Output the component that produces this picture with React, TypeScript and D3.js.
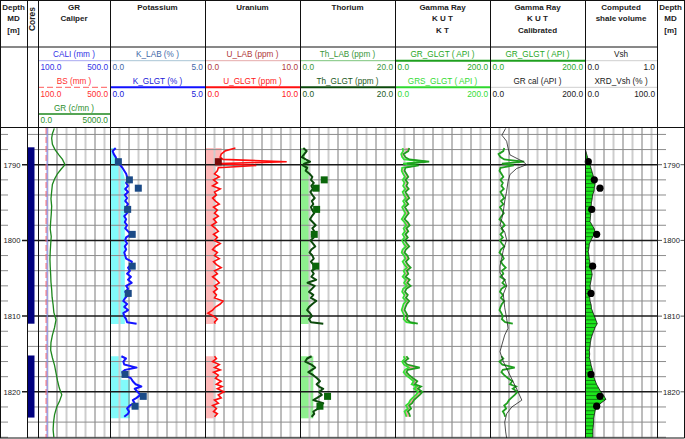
import React from 'react';
import * as d3 from 'd3';

// ---------- data (depths in m MD) ----------
const CORES = [[1787.7, 1811.0], [1815.2, 1823.4]];
const MAJOR_DEPTHS = [1790, 1800, 1810, 1820];

// core interval A / B sampling depths
const DEPTH_A = [
  1787.8, 1788.2, 1788.6, 1789.0, 1789.3, 1789.6, 1789.85, 1790.1, 1790.4, 1790.8,
  1791.2, 1791.6, 1792.0, 1792.4, 1792.8, 1793.2, 1793.6, 1794.0, 1794.4, 1794.8,
  1795.2, 1795.6, 1796.0, 1796.4, 1796.8, 1797.2, 1797.6, 1798.0, 1798.4, 1798.8,
  1799.2, 1799.6, 1800.0, 1800.4, 1800.8, 1801.2, 1801.6, 1802.0, 1802.4, 1802.8,
  1803.2, 1803.6, 1804.0, 1804.4, 1804.8, 1805.2, 1805.6, 1806.0, 1806.4, 1806.8,
  1807.2, 1807.6, 1808.0, 1808.4, 1808.8, 1809.2, 1809.6, 1810.0, 1810.4, 1810.8,
  1811.0,
];
const DEPTH_B = [
  1815.3, 1815.6, 1816.0, 1816.4, 1816.8, 1817.1, 1817.4, 1817.8, 1818.2, 1818.6,
  1819.0, 1819.3, 1819.6, 1820.0, 1820.4, 1820.8, 1821.1, 1821.5, 1821.8, 1822.2,
  1822.6, 1822.9, 1823.3,
];

// K_GLGT (%)
const K_A = [
  0.30, 0.14, 0.20, 0.30, 0.35, 0.45, 0.50, 0.55, 0.65, 0.75,
  0.85, 0.90, 0.95, 0.85, 0.95, 0.80, 0.95, 0.78, 0.90, 0.80,
  0.95, 0.85, 0.78, 0.90, 0.75, 0.85, 0.78, 0.90, 0.80, 0.95,
  1.10, 0.85, 0.80, 0.90, 0.78, 0.85, 0.75, 0.80, 0.85, 1.15,
  1.10, 0.95, 1.05, 0.90, 1.10, 0.95, 1.14, 0.85, 0.95, 0.80,
  0.95, 0.80, 0.70, 0.90, 0.75, 0.95, 0.70, 0.75, 0.85, 0.90,
  1.40,
];
const K_B = [0.60, 0.84, 0.70, 0.75, 1.40, 0.80, 0.65, 0.70, 1.10, 1.20, 1.35, 1.65, 1.30, 1.45, 1.60, 1.40, 1.20, 1.30, 1.05, 0.90, 1.00, 0.95, 0.75];

// U_GLGT (ppm)
const U_A = [
  3.2, 2.1, 1.7, 1.6, 1.9, 8.6, 1.5, 5.4, 1.4, 1.3,
  1.0, 1.5, 0.9, 1.3, 0.8, 1.6, 1.0, 1.2, 0.8, 1.1,
  1.5, 0.9, 1.3, 1.0, 1.4, 0.9, 1.2, 0.7, 1.1, 1.4,
  0.9, 1.3, 1.0, 1.6, 1.1, 0.8, 1.3, 1.0, 1.5, 0.9,
  1.2, 1.7, 1.0, 1.3, 0.8, 1.2, 1.5, 1.0, 1.3, 0.9,
  1.2, 1.0, 1.9, 1.6, 1.1, 0.8, 0.3, 0.9, 1.3, 1.0,
  1.1,
];
const U_B = [1.0, 1.2, 0.8, 1.5, 1.0, 1.6, 0.9, 1.4, 1.1, 1.7, 1.2, 1.8, 1.3, 2.0, 1.4, 1.7, 1.0, 1.4, 0.8, 1.2, 0.9, 1.3, 1.0];

// Th_GLGT (ppm)
const TH_A = [
  0.7, 1.4, 0.9, 0.4, 1.2, 2.1, 0.9, 0.6, 1.5, 1.2,
  2.0, 2.6, 2.3, 2.9, 2.4, 2.7, 2.2, 2.6, 3.1, 2.5,
  2.8, 2.3, 2.6, 3.0, 2.5, 2.1, 2.7, 3.3, 2.6, 3.0,
  2.5, 2.9, 2.2, 2.7, 3.2, 2.4, 2.0, 2.6, 2.9, 2.3,
  2.8, 3.5, 2.5, 2.9, 2.4, 3.4, 1.6, 3.1, 2.5, 1.9,
  2.8, 2.3, 3.4, 2.6, 1.9, 1.5, 2.1, 2.5, 1.9, 2.3,
  4.9,
];
const TH_B = [2.45, 1.5, 1.1, 2.4, 3.2, 2.5, 1.75, 2.8, 3.6, 4.2, 3.5, 4.0, 4.9, 4.0, 4.6, 3.6, 2.8, 4.9, 4.3, 3.9, 2.8, 3.0, 2.45];

// GR_GLGT and GRS_GLGT (API)
const GR_A = [
  30, 28, 18, 22, 30, 72, 25, 50, 22, 20,
  24, 28, 22, 27, 24, 29, 22, 26, 30, 23,
  28, 21, 25, 29, 24, 20, 27, 31, 24, 28,
  22, 27, 21, 25, 30, 23, 20, 26, 29, 23,
  27, 33, 25, 28, 22, 31, 26, 33, 24, 21,
  27, 23, 30, 25, 22, 20, 24, 27, 25, 32,
  48,
];
const GRS_A = [
  16, 17, 13, 15, 19, 64, 17, 44, 15, 14,
  17, 21, 16, 20, 17, 22, 16, 19, 23, 17,
  21, 15, 18, 22, 18, 14, 20, 24, 18, 21,
  16, 20, 15, 18, 23, 16, 14, 19, 22, 16,
  20, 25, 18, 21, 16, 23, 19, 25, 17, 15,
  20, 17, 23, 18, 16, 14, 17, 20, 18, 24,
  42,
];
const GR_B = [24, 28, 20, 26, 52, 27, 24, 30, 38, 47, 42, 55, 48, 58, 52, 45, 40, 36, 30, 34, 27, 30, 32];
const GRS_B = [18, 21, 15, 19, 29, 21, 18, 23, 31, 39, 35, 46, 40, 49, 44, 37, 32, 29, 23, 27, 20, 22, 24];

// shading edges [depth, value]
const K_SHADE_A = [[1787.8, 0.25], [1788.3, 0.12], [1789.2, 0.3], [1790.0, 0.5], [1790.9, 0.68], [1791.8, 0.78], [1811.05, 0.78]];
const K_SHADE_B = [[1815.3, 0.6], [1818.4, 0.6], [1818.4, 1.05], [1823.5, 1.05]];
const U_SHADE_A = [[1787.8, 1.75], [1790.3, 1.75], [1790.3, 1.1], [1811.05, 1.1]];
const U_SHADE_B = [[1815.3, 1.1], [1823.5, 1.1]];
const TH_SHADE_A = [[1787.8, 1.05], [1789.5, 1.05], [1789.5, 2.1], [1811.05, 2.1]];
const TH_SHADE_B = [[1815.3, 2.8], [1823.5, 2.8]];

// lab samples
const LAB_DEPTH = [1789.6, 1792.0, 1793.1, 1795.9, 1799.2, 1803.4, 1807.0, 1817.7, 1820.6, 1821.9];
const K_LAB = [0.44, 1.02, 1.49, 0.93, 1.17, 1.17, 0.96, 0.79, 1.75, 1.32];
const U_LAB = [1.4, null, null, null, null, null, null, null, null, null];
const TH_LAB = [null, 5.1, 3.37, 3.5, 3.0, 3.3, null, null, 5.8, 4.2];
const XRD_VSH = [4.6, 12.9, 20.8, 9.3, 16.2, 10.6, 8.3, 8.3, 20.8, 16.2];

// GR calibrated (API), full depth
const GRCAL_DEPTH = [
  1785.2, 1786.1, 1786.9, 1787.8, 1788.7, 1789.6, 1790.0, 1790.5, 1791.3, 1792.2,
  1793.5, 1794.8, 1796.2, 1797.1, 1798.0, 1798.9, 1799.9, 1801.3, 1802.5, 1803.4,
  1804.3, 1805.2, 1806.0, 1807.1, 1808.9, 1810.3, 1811.6, 1812.5, 1813.8, 1814.7,
  1816.0, 1817.3, 1818.7, 1820.0, 1821.1, 1822.0, 1822.9, 1824.0, 1825.3, 1826.1,
];
const GRCAL = [
  33, 25, 35, 38, 42, 70, 77, 56, 42, 38,
  35, 31, 28, 25, 21, 31, 35, 28, 24, 21,
  21, 31, 35, 28, 31, 35, 38, 31, 25, 21,
  28, 38, 49, 59, 67, 46, 35, 31, 33, 35,
];

// GR (c/mn), full depth
const GRC_DEPTH = [
  1785.2, 1785.9, 1786.5, 1787.3, 1788.0, 1788.7, 1789.3, 1790.0, 1790.6, 1791.2,
  1791.9, 1792.6, 1793.5, 1794.5, 1795.5, 1796.5, 1797.5, 1798.5, 1799.5, 1800.5,
  1801.5, 1802.5, 1803.5, 1804.5, 1805.5, 1806.5, 1807.5, 1808.5, 1809.5, 1810.5,
  1811.5, 1812.5, 1813.5, 1814.5, 1815.5, 1816.5, 1817.5, 1818.5, 1819.5, 1820.4,
  1821.2, 1822.0, 1823.0, 1824.0, 1825.0, 1826.0,
];
const GRC = [
  1130, 1000, 950, 1000, 1180, 1450, 1700, 1875, 1600, 1350,
  1150, 1000, 950, 900, 950, 920, 880, 850, 920, 880,
  850, 830, 850, 880, 900, 950, 980, 1050, 1100, 1250,
  1150, 1000, 900, 880, 1000, 1150, 1250, 1350, 1480, 1650,
  1500, 1300, 1150, 1080, 1050, 1100,
];

// caliper / bit size (mm)
const CALI_DEPTH = [1785.15, 1826.1];
const CALI = [151, 151];
const BS = [145, 145];

// computed Vsh (fraction)
const VSH_DEPTH = [
  1788.1, 1788.5, 1789.0, 1789.5, 1790.0, 1790.5, 1791.0, 1791.5, 1792.0, 1792.5,
  1793.0, 1793.5, 1794.0, 1794.5, 1795.0, 1795.5, 1796.0, 1796.5, 1797.0, 1797.5,
  1798.0, 1798.5, 1799.0, 1799.5, 1800.0, 1800.5, 1801.0, 1801.5, 1802.0, 1802.5,
  1803.0, 1803.5, 1804.0, 1804.5, 1805.0, 1805.5, 1806.0, 1806.5, 1807.0, 1807.5,
  1808.0, 1808.5, 1809.0, 1809.5, 1810.0, 1810.5, 1811.0, 1811.5, 1812.0, 1812.5,
  1813.0, 1813.5, 1814.0, 1814.5, 1815.0, 1815.5, 1816.0, 1816.5, 1817.0, 1817.5,
  1818.0, 1818.5, 1819.0, 1819.5, 1820.0, 1820.5, 1821.0, 1821.5, 1822.0, 1822.5,
  1823.0, 1823.5, 1824.0, 1824.5, 1825.0, 1825.5, 1826.0,
];
const VSH = [
  0.01, 0.02, 0.035, 0.05, 0.07, 0.085, 0.10, 0.115, 0.13, 0.14,
  0.13, 0.125, 0.105, 0.10, 0.09, 0.085, 0.07, 0.08, 0.075, 0.07,
  0.10, 0.13, 0.14, 0.11, 0.08, 0.06, 0.055, 0.045, 0.055, 0.06,
  0.07, 0.085, 0.09, 0.10, 0.09, 0.08, 0.07, 0.075, 0.06, 0.065,
  0.07, 0.085, 0.09, 0.11, 0.13, 0.15, 0.17, 0.14, 0.12, 0.10,
  0.085, 0.075, 0.07, 0.06, 0.065, 0.06, 0.075, 0.085, 0.10, 0.11,
  0.12, 0.14, 0.16, 0.19, 0.22, 0.26, 0.29, 0.22, 0.17, 0.14,
  0.13, 0.12, 0.12, 0.115, 0.11, 0.11, 0.11,
];

// ---------- layout ----------
const W = 685;
const H = 439;
const TOP = 128;
const BOTTOM = 438;
const COLS = [0, 27, 38, 110, 205, 300, 395, 490, 585, 657, 684];
const FONT = 'Liberation Sans, Arial, sans-serif';

const y = d3.scaleLinear().domain([1785.15, 1826.1]).range([TOP, BOTTOM]);
const xCali = d3.scaleLinear().domain([100, 500]).range([38, 110]);
const xGrc = d3.scaleLinear().domain([0, 5000]).range([38, 110]);
const xK = d3.scaleLinear().domain([0, 5]).range([110, 205]);
const xU = d3.scaleLinear().domain([0, 10]).range([205, 300]);
const xTh = d3.scaleLinear().domain([0, 20]).range([300, 395]);
const xGr = d3.scaleLinear().domain([0, 200]).range([395, 490]);
const xGrCal = d3.scaleLinear().domain([0, 200]).range([490, 585]);
const xVsh = d3.scaleLinear().domain([0, 1]).range([585, 657]);
const xXrd = d3.scaleLinear().domain([0, 100]).range([585, 657]);

const HEADERS = [
  { x0: 0, x1: 27, lines: ['Depth', 'MD', '[m]'] },
  { x0: 38, x1: 110, lines: ['GR', 'Caliper'] },
  { x0: 110, x1: 205, lines: ['Potassium'] },
  { x0: 205, x1: 300, lines: ['Uranium'] },
  { x0: 300, x1: 395, lines: ['Thorium'] },
  { x0: 395, x1: 490, lines: ['Gamma Ray', 'K U T', 'K T'] },
  { x0: 490, x1: 585, lines: ['Gamma Ray', 'K U T', 'Calibrated'] },
  { x0: 585, x1: 657, lines: ['Computed', 'shale volume'] },
  { x0: 657, x1: 684, lines: ['Depth', 'MD', '[m]'] },
];

type Scale = { label: string; lo: string; hi: string; text: string; stroke: string; w: number; dash?: string };
const SCALES: { x0: number; x1: number; rows: Scale[] }[] = [
  { x0: 38, x1: 110, rows: [
    { label: 'CALI (mm )', lo: '100.0', hi: '500.0', text: '#3232e6', stroke: '#a8a8f0', w: 1 },
    { label: 'BS (mm )', lo: '100.0', hi: '500.0', text: '#ff3030', stroke: '#ff5a5a', w: 1, dash: '6,3' },
    { label: 'GR (c/mn )', lo: '0.0', hi: '5000.0', text: '#2e8f2e', stroke: '#1d871d', w: 1.5 },
  ] },
  { x0: 110, x1: 205, rows: [
    { label: 'K_LAB (% )', lo: '0.0', hi: '5.0', text: '#3f68a8', stroke: '#a9c6d6', w: 1 },
    { label: 'K_GLGT (% )', lo: '0.0', hi: '5.0', text: '#2020d8', stroke: '#1212ff', w: 2 },
  ] },
  { x0: 205, x1: 300, rows: [
    { label: 'U_LAB (ppm )', lo: '0.0', hi: '10.0', text: '#b03a3a', stroke: '#e6aaaa', w: 1 },
    { label: 'U_GLGT (ppm )', lo: '0.0', hi: '10.0', text: '#ff2020', stroke: '#ff1010', w: 2 },
  ] },
  { x0: 300, x1: 395, rows: [
    { label: 'Th_LAB (ppm )', lo: '0.0', hi: '20.0', text: '#3a963a', stroke: '#7cc47c', w: 1 },
    { label: 'Th_GLGT (ppm )', lo: '0.0', hi: '20.0', text: '#1d5a1d', stroke: '#0c4a0c', w: 2 },
  ] },
  { x0: 395, x1: 490, rows: [
    { label: 'GR_GLGT ( API )', lo: '0.0', hi: '200.0', text: '#27a827', stroke: '#1fa01f', w: 2 },
    { label: 'GRS_GLGT ( API )', lo: '0.0', hi: '200.0', text: '#34dc34', stroke: '#2fd82f', w: 2 },
  ] },
  { x0: 490, x1: 585, rows: [
    { label: 'GR_GLGT ( API )', lo: '0.0', hi: '200.0', text: '#27a827', stroke: '#1fa01f', w: 2 },
    { label: 'GR cal (API )', lo: '0.0', hi: '200.0', text: '#222', stroke: '#cfcfcf', w: 1 },
  ] },
  { x0: 585, x1: 657, rows: [
    { label: 'Vsh', lo: '0.0', hi: '1.0', text: '#222', stroke: '#cfcfcf', w: 1 },
    { label: 'XRD_Vsh (% )', lo: '0.0', hi: '100.0', text: '#222', stroke: '#cfcfcf', w: 1 },
  ] },
];
const ROW_LABEL_Y = [57.3, 84, 110.5];
const ROW_LINE_Y = [60.7, 87.3, 114];
const ROW_NUM_Y = [70.2, 96.6, 122.6];

// ---------- path helpers ----------
function curve(depths: number[], vals: number[], x: d3.ScaleLinear<number, number>) {
  return d3.line<number>().x((i) => x(vals[i])).y((i) => y(depths[i]))(d3.range(vals.length)) || '';
}
function shade(pairs: number[][], x: d3.ScaleLinear<number, number>) {
  return d3.area<number[]>().y((d) => y(d[0])).x0(x.range()[0]).x1((d) => x(d[1]))(pairs) || '';
}
function between(depths: number[], a: number[], b: number[], x: d3.ScaleLinear<number, number>) {
  return d3.area<number>().y((i) => y(depths[i])).x0((i) => x(b[i])).x1((i) => x(a[i]))(d3.range(a.length)) || '';
}

export default function App() {
  const tracks = COLS.slice(2, 9).map((x0, i) => [x0, COLS[i + 3]]);
  const vgrid: { x: number; light: boolean }[] = [];
  tracks.forEach(([x0, x1]) => {
    for (let k = 1; x0 + 9.5 * k < x1 - 1; k++) vgrid.push({ x: x0 + 9.5 * k, light: k % 2 === 1 });
  });
  const minor = d3.range(1786, 1827, 2).filter((d) => d % 10 !== 0);
  const vshIdx = d3.range(VSH.length);

  return (
    <svg width={W} height={H} style={{ position: 'absolute', left: 0, top: 0, background: '#fff' }} fontFamily={FONT}>
      <rect x={0} y={0} width={W} height={H} fill="#fff" />

      {/* shading */}
      <path d={shade(K_SHADE_A, xK)} fill="#82fbfb" />
      <path d={shade(K_SHADE_B, xK)} fill="#82fbfb" />
      <path d={shade(U_SHADE_A, xU)} fill="#ffb9b9" />
      <path d={shade(U_SHADE_B, xU)} fill="#ffb9b9" />
      <path d={shade(TH_SHADE_A, xTh)} fill="#8ef08e" />
      <path d={shade(TH_SHADE_B, xTh)} fill="#8ef08e" />
      <path d={between(DEPTH_A, GR_A, GRS_A, xGr)} fill="#f0a7a7" />
      <path d={between(DEPTH_B, GR_B, GRS_B, xGr)} fill="#f0a7a7" />

      {/* grid */}
      {vgrid.map((g, i) => (
        <line key={'v' + i} x1={g.x} x2={g.x} y1={TOP} y2={BOTTOM}
          stroke={g.light ? '#cdcdcd' : '#7a7a7a'} strokeWidth={g.light ? 2 : 1} />
      ))}
      {minor.map((d) => (
        <g key={'m' + d}>
          <line x1={27} x2={657} y1={y(d)} y2={y(d)} stroke="#8c8c8c" strokeWidth={1} />
          <line x1={0} x2={8} y1={y(d)} y2={y(d)} stroke="#8c8c8c" strokeWidth={1} />
          <line x1={657} x2={666} y1={y(d)} y2={y(d)} stroke="#8c8c8c" strokeWidth={1} />
        </g>
      ))}
      {MAJOR_DEPTHS.map((d) => (
        <g key={'M' + d}>
          <line x1={22} x2={657} y1={y(d)} y2={y(d)} stroke="#1a1a1a" strokeWidth={1.5} />
          <line x1={657} x2={662} y1={y(d)} y2={y(d)} stroke="#555" strokeWidth={1} />
          <line x1={680.5} x2={684} y1={y(d)} y2={y(d)} stroke="#555" strokeWidth={1} />
          <text x={20.5} y={y(d) + 2.8} fontSize={7.6} textAnchor="end" fill="#222">{d}</text>
          <text x={663} y={y(d) + 2.8} fontSize={7.6} fill="#222">{d}</text>
        </g>
      ))}

      {/* cores */}
      {CORES.map(([a, b], i) => (
        <rect key={'c' + i} x={27} y={y(a)} width={7.5} height={y(b) - y(a)} fill="#00007e" />
      ))}

      {/* Vsh */}
      <path
        d={d3.area<number>().y((i) => y(VSH_DEPTH[i])).x0(585).x1((i) => xVsh(VSH[i]))(vshIdx) || ''}
        fill="#1de61d"
      />
      {vshIdx.map((i) => (
        <line key={'h' + i} x1={585} x2={xVsh(VSH[i])} y1={y(VSH_DEPTH[i])} y2={y(VSH_DEPTH[i])}
          stroke="#0a3a0a" strokeWidth={0.6} />
      ))}
      <path d={curve(VSH_DEPTH, VSH, xVsh)} fill="none" stroke="#111" strokeWidth={0.8} />

      {/* GR / caliper */}
      <path d={curve(CALI_DEPTH, BS, xCali)} fill="none" stroke="#ff5a5a" strokeWidth={1} strokeDasharray="6,3" />
      <path d={curve(CALI_DEPTH, CALI, xCali)} fill="none" stroke="#8a8af0" strokeWidth={1} />
      <path d={curve(GRC_DEPTH, GRC, xGrc)} fill="none" stroke="#1d871d" strokeWidth={1.3} />

      {/* spectral curves */}
      {[[DEPTH_A, K_A], [DEPTH_B, K_B]].map(([d, v], i) => (
        <path key={'k' + i} d={curve(d, v, xK)} fill="none" stroke="#1414ff" strokeWidth={2} strokeLinejoin="round" />
      ))}
      {[[DEPTH_A, U_A], [DEPTH_B, U_B]].map(([d, v], i) => (
        <path key={'u' + i} d={curve(d, v, xU)} fill="none" stroke="#ff0c0c" strokeWidth={1.6} />
      ))}
      {[[DEPTH_A, TH_A], [DEPTH_B, TH_B]].map(([d, v], i) => (
        <path key={'t' + i} d={curve(d, v, xTh)} fill="none" stroke="#0c4a0c" strokeWidth={2} strokeLinejoin="round" />
      ))}
      {[[DEPTH_A, GRS_A], [DEPTH_B, GRS_B]].map(([d, v], i) => (
        <path key={'gs' + i} d={curve(d, v, xGr)} fill="none" stroke="#33e033" strokeWidth={1.7} />
      ))}
      {[[DEPTH_A, GR_A], [DEPTH_B, GR_B]].map(([d, v], i) => (
        <g key={'g' + i}>
          <path d={curve(d, v, xGr)} fill="none" stroke="#1f9f1f" strokeWidth={1.7} />
          <path d={curve(d, v, xGrCal)} fill="none" stroke="#1f9f1f" strokeWidth={1.8} />
        </g>
      ))}
      <path d={curve(GRCAL_DEPTH, GRCAL, xGrCal)} fill="none" stroke="#222" strokeWidth={0.8} />

      {/* lab samples */}
      {LAB_DEPTH.map((d, i) => (
        <g key={'l' + i}>
          <rect x={xK(K_LAB[i]) - 3.5} y={y(d) - 3.5} width={7} height={7} fill="#1b4a86" />
          {U_LAB[i] != null && <rect x={xU(U_LAB[i] as number) - 3.5} y={y(d) - 3.5} width={7} height={7} fill="#7a0a0a" />}
          {TH_LAB[i] != null && <rect x={xTh(TH_LAB[i] as number) - 3.5} y={y(d) - 3.5} width={7} height={7} fill="#0a660a" />}
          <circle cx={xXrd(XRD_VSH[i])} cy={y(d)} r={3.6} fill="#000" />
        </g>
      ))}

      {/* headers */}
      {HEADERS.map((h, i) => (
        <g key={'hd' + i}>
          {h.lines.map((t, j) => (
            <text key={j} x={(h.x0 + h.x1) / 2} y={9.5 + j * 11.7} fontSize={8} fontWeight="bold" textAnchor="middle" fill="#222">{t}</text>
          ))}
        </g>
      ))}
      <text transform="translate(35.3,19) rotate(-90)" fontSize={8.5} fontWeight="bold" textAnchor="middle" fill="#222">Cores</text>

      {SCALES.map((s, i) => (
        <g key={'s' + i}>
          {s.rows.map((r, j) => (
            <g key={j}>
              <text x={(s.x0 + s.x1) / 2} y={ROW_LABEL_Y[j]} fontSize={8.2} textAnchor="middle" fill={r.text}>{r.label}</text>
              <line x1={s.x0} x2={s.x1} y1={ROW_LINE_Y[j]} y2={ROW_LINE_Y[j]} stroke={r.stroke} strokeWidth={r.w} strokeDasharray={r.dash} />
              <text x={s.x0 + 2.5} y={ROW_NUM_Y[j]} fontSize={8.3} fill={r.text}>{r.lo}</text>
              <text x={s.x1 - 2} y={ROW_NUM_Y[j]} fontSize={8.3} textAnchor="end" fill={r.text}>{r.hi}</text>
            </g>
          ))}
        </g>
      ))}

      {/* frame */}
      {COLS.map((x) => (
        <line key={'col' + x} x1={x + 0.5} x2={x + 0.5} y1={0} y2={BOTTOM} stroke="#111" strokeWidth={1} />
      ))}
      <line x1={0} x2={684.5} y1={0.5} y2={0.5} stroke="#111" />
      <line x1={0} x2={657.5} y1={47} y2={47} stroke="#111" />
      <line x1={0} x2={684.5} y1={TOP - 0.5} y2={TOP - 0.5} stroke="#111" />
      <line x1={0} x2={684.5} y1={BOTTOM} y2={BOTTOM} stroke="#111" />
    </svg>
  );
}
